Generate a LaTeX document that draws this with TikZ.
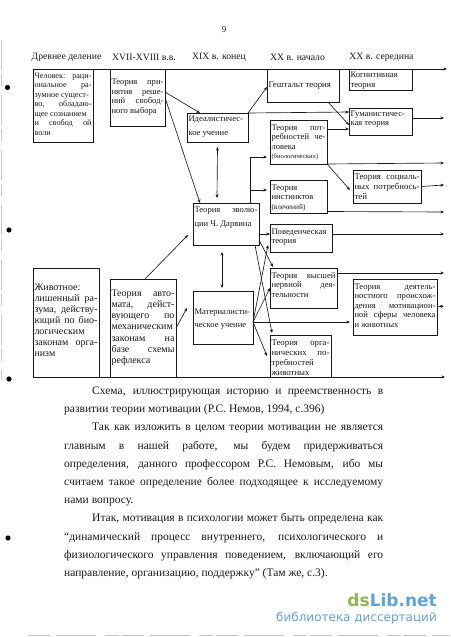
\documentclass[tikz,border=0pt]{standalone}
\usepackage{fontspec}
\setmainfont{Liberation Serif}
\newfontfamily\wmfont{DejaVu Sans}
\usetikzlibrary{arrows.meta}
\definecolor{ink}{HTML}{1A1A1A}
\definecolor{wmgreen}{HTML}{8FB84E}
\definecolor{wmblue}{HTML}{62A3D6}
\newcommand\JL[1]{\noindent\makebox[\linewidth][s]{\strut #1}\par}
\newcommand\LN[1]{\noindent\mbox{\strut #1}\par}
\newcommand\SZ[2]{\fontsize{#1pt}{#2pt}\selectfont}
% name, x1,y1,x2,y2, first-baseline offset, size, skip, lines
\newcommand\bx[9]{%
  \pgfmathsetmacro\bw{#4-#2}\pgfmathsetmacro\bh{#5-#3}%
  \pgfmathsetmacro\tw{\bw-3}%
  \node[boxnode,minimum width=\bw pt,minimum height=\bh pt] (#1) at ({(#2+#4)/2},{(#3+#5)/2})
    {\parbox[c][\bh pt][t]{\tw pt}{\SZ{#7}{#8}\vspace*{\dimexpr #6pt-0.7\baselineskip\relax}#9}};}
\newcommand\hd[3]{\node[headnode] (#1) at (#2,57) {#3};}
\newcommand\tl[4]{\node[linenode] (#1) at (#2,#3) {#4};}
\newcommand\tj[5]{\node[linenode] (#1) at (#2,#3) {\makebox[#4pt][s]{#5}};}
\tikzset{
  boxnode/.style={draw=ink,line width=0.7pt,inner sep=0pt,outer sep=0pt,text=ink,fill=white},
  headnode/.style={text=ink,inner sep=0pt,font=\fontsize{9.7pt}{12pt}\selectfont},
  linenode/.style={anchor=base west,text=ink,inner sep=0pt,font=\fontsize{11.5pt}{14pt}\selectfont},
  conn/.style={draw=ink,line width=0.65pt},
  arr/.style={conn,-{Stealth[length=3.6pt,width=3pt]}},
  darr/.style={conn,{Stealth[length=3.6pt,width=3pt]}-{Stealth[length=3.6pt,width=3pt]}},
  axis/.style={draw=ink,line width=1pt,-{Stealth[length=3.6pt,width=3pt]}},
  hole/.style={fill=black},
  scan/.style={draw=gray!45,line width=0.4pt}
}
\begin{document}
\begin{tikzpicture}[x=1pt,y=-1pt]
\useasboundingbox (0,0) rectangle (450,637);
\fill[white] (0,0) rectangle (450,637);
% scan artefacts
\draw[scan,dash pattern=on 30pt off 4pt on 12pt off 9pt] (1.5,40) -- (1.5,380);
\draw[scan,dash pattern=on 22pt off 6pt on 40pt off 9pt on 14pt off 3pt] (28,635) -- (450,635);
\fill[hole] (7.5,87.5) circle (2.6);
\fill[hole] (9,230) circle (2.6);
\fill[hole] (9,379) circle (2.6);
\fill[hole] (8,538) circle (2.6);
\node[text=ink,inner sep=0pt,font=\fontsize{9pt}{10pt}\selectfont] (pg) at (224,30) {9};
% headers
\hd{h1}{66.5}{Древнее деление}
\hd{h2}{144}{XVII-XVIII в.в.}
\hd{h3}{219}{XIX в. конец}
\hd{h4}{297.5}{XX в. начало}
\hd{h5}{381.5}{XX в. середина}
% axes
\coordinate (axA) at (33,69); \coordinate (axB) at (447,69);
\coordinate (axC) at (33,377); \coordinate (axD) at (445,377);
\draw[axis] (axA) -- (axB);
\draw[axis] (axC) -- (axD);
% boxes
\bx{A}{33}{69}{93}{142}{9}{8.2}{9.5}{\JL{Человек: раци-}\JL{ональное ра-}\LN{зумное сущест-}\JL{во, обладаю-}\LN{щее сознанием}\JL{и свобод ой}\LN{воли}}
\bx{B}{110}{69}{165}{126}{15.5}{8.6}{9.5}{\JL{Теория при-}\JL{нятия реше-}\JL{ний свобод-}\LN{ного выбора}}
\bx{C}{187}{113}{248}{142}{8.5}{8.6}{14}{\LN{Идеалистичес-}\LN{кое учение}}
\bx{D}{267}{69}{339}{102}{18}{8.8}{9.5}{\LN{Гештальт теория}}
\bx{E}{349}{69}{412}{90}{8.5}{8.6}{9.5}{\LN{Когнитивная}\LN{теория}}
\bx{F}{349}{108}{412}{135}{8}{8.6}{9.7}{\LN{Гуманистичес-}\LN{кая теория}}
\bx{G}{270}{120}{327}{164}{10}{8.6}{9.6}{\JL{Теория пот-}\JL{ребностей че-}\LN{ловека}\LN{\fontsize{6.6pt}{9.6pt}\selectfont(биологических)}}
\bx{H}{353}{170}{421}{203}{9.5}{8.8}{10}{\JL{Теория социаль-}\JL{ных потребнось-}\LN{тей}}
\bx{I}{270}{180}{327}{213}{10}{8.6}{9.7}{\LN{Теория}\LN{инстинктов}\LN{\fontsize{7.4pt}{9.7pt}\selectfont(влечений)}}
\bx{J}{193}{203}{259}{245}{9}{8.6}{14}{\JL{Теория эволю-}\LN{ции Ч. Дарвина}}
\bx{K}{270}{224}{332}{252}{10}{8.6}{9.5}{\LN{Поведенческая}\LN{теория}}
\bx{L}{270}{268}{337}{308}{10}{8.6}{9.7}{\JL{Теория высшей}\JL{нервной дея-}\LN{тельности}}
\bx{M}{353}{279}{437}{335}{10}{8.6}{9.5}{\JL{Теория деятель-}\JL{ностного происхож-}\JL{дения мотивацион-}\JL{ной сферы человека}\LN{и животных}}
\bx{N}{270}{335}{331}{377}{10}{8.8}{10}{\JL{Теория орга-}\JL{нических по-}\LN{требностей}\LN{животных}}
\bx{O}{193}{291}{253}{344}{23.5}{8.6}{13}{\LN{Материалисти-}\LN{ческое учение}}
\bx{P}{33}{268}{99}{377}{22}{10}{11.1}{\LN{Животное:}\JL{лишенный ра-}\JL{зума, действу-}\JL{ющий по био-}\LN{логическим}\JL{законам орга-}\LN{низм}}
\bx{Q}{110}{279}{176}{377}{17}{10}{11.3}{\JL{Теория авто-}\JL{мата, дейст-}\JL{вующего по}\JL{механическим}\JL{законам на}\JL{базе схемы}\LN{рефлекса}}
% free ends at the right
\coordinate (rF) at (444,118); \coordinate (rG) at (444,163);
\coordinate (rH) at (444,185); \coordinate (rI) at (444,212);
\coordinate (rK) at (444,234); \coordinate (rL) at (444,273);
\coordinate (rM) at (444,306);
% connectors
\draw[arr] ([yshift=5.5pt]B.east) -- ([xshift=-17.5pt]C.north);
\draw[arr] (B.east) -- ([xshift=-26pt]J.north);
\draw[darr] ([yshift=-5pt]C.south) -- ([xshift=-9pt,yshift=5pt]J.north);
\draw[arr] (C.north east) -- ([yshift=-1.5pt]D.west);
\draw[arr] (C.north east) -- ([yshift=9.5pt]F.west);
\draw[arr] ([xshift=25pt]D.south) -- ([yshift=-3.5pt]F.west);
\draw[arr] ([yshift=13pt]G.east) -- ([yshift=-7.5pt]F.west);
\draw[arr] ([yshift=3.5pt]F.east) -- (rF);
\draw[arr] (G.south east) -- (rG);
\draw[arr] (G.south east) -- ([xshift=-3pt,yshift=-3.5pt]H.west);
\draw[arr] (H.east) -- (rH);
\draw[arr] ([xshift=24pt]J.north) |- ([xshift=-3pt,yshift=-15pt]G.west);
\draw[arr] ([xshift=24pt,yshift=13pt]J.north) -- ([xshift=-3pt,yshift=6.5pt]I.west);
\draw[arr] ([yshift=-15pt]I.east) -- (rI);
\draw[arr] ([yshift=-10pt]J.east) -- ([yshift=4pt]K.west);
\draw[arr] (K.east |- rK) -- (rK);
\draw[arr] ([yshift=-16pt]J.east) -- ([xshift=-30.5pt,yshift=1pt]L.north);
\draw[arr] ([yshift=15pt]L.east) -- (rL);
\draw[arr] (M.east) -- (rM);
\draw[arr] ([xshift=29pt]J.south) -- ([xshift=-28.5pt,yshift=2pt]N.north);
\draw[arr] ([yshift=-4.5pt]O.east) -- ([xshift=-2pt,yshift=7pt]K.south west);
\draw[arr] ([yshift=-4.5pt]O.east) -- (L.west);
\draw[arr] ([yshift=-4.5pt]O.east) -- ([xshift=-3pt,yshift=-15pt]M.west);
\draw[arr] ([yshift=-4.5pt]O.east) -- ([xshift=-3pt]N.west);
\draw[arr] ([xshift=2pt]Q.north) -- ([xshift=-5pt,yshift=-11pt]J.west);
\draw[arr] (Q.east) -- ([xshift=-6pt,yshift=9.5pt]O.west);
\draw[darr] ([xshift=-4pt,yshift=-7pt]J.south) -- ([xshift=-1pt,yshift=3pt]O.north);
% running text
\tj{t1}{92}{394}{291}{Схема, иллюстрирующая историю и преемственность в}
\tl{t2}{64}{412}{развитии теории мотивации (Р.С. Немов, 1994, с.396)}
\tj{t3}{92}{430}{291}{Так как изложить в целом теории мотивации не является}
\tj{t4}{64}{449}{319}{главным в нашей работе, мы будем придерживаться}
\tj{t5}{64}{467}{319}{определения, данного профессором Р.С. Немовым, ибо мы}
\tj{t6}{64}{485}{319}{считаем такое определение более подходящее к исследуемому}
\tl{t7}{64}{503}{нами вопросу.}
\tj{t8}{92}{521}{291}{Итак, мотивация в психологии может быть определена как}
\tj{t9}{64}{540}{319}{“динамический процесс внутреннего, психологического и}
\tj{t10}{64}{558}{319}{физиологического управления поведением, включающий его}
\tl{t11}{64}{576}{направление, организацию, поддержку” (Там же, с.3).}
% watermark
\node[anchor=base east,inner sep=0pt,font=\wmfont\bfseries\fontsize{17pt}{20pt}\selectfont] (wm1) at (437,606) {\textcolor{wmgreen}{ds}\textcolor{wmblue}{Lib.net}};
\node[anchor=base east,inner sep=0pt,text=wmblue,font=\wmfont\fontsize{12pt}{14pt}\selectfont] (wm2) at (437,621) {библиотека диссертаций};
\end{tikzpicture}
\end{document}
